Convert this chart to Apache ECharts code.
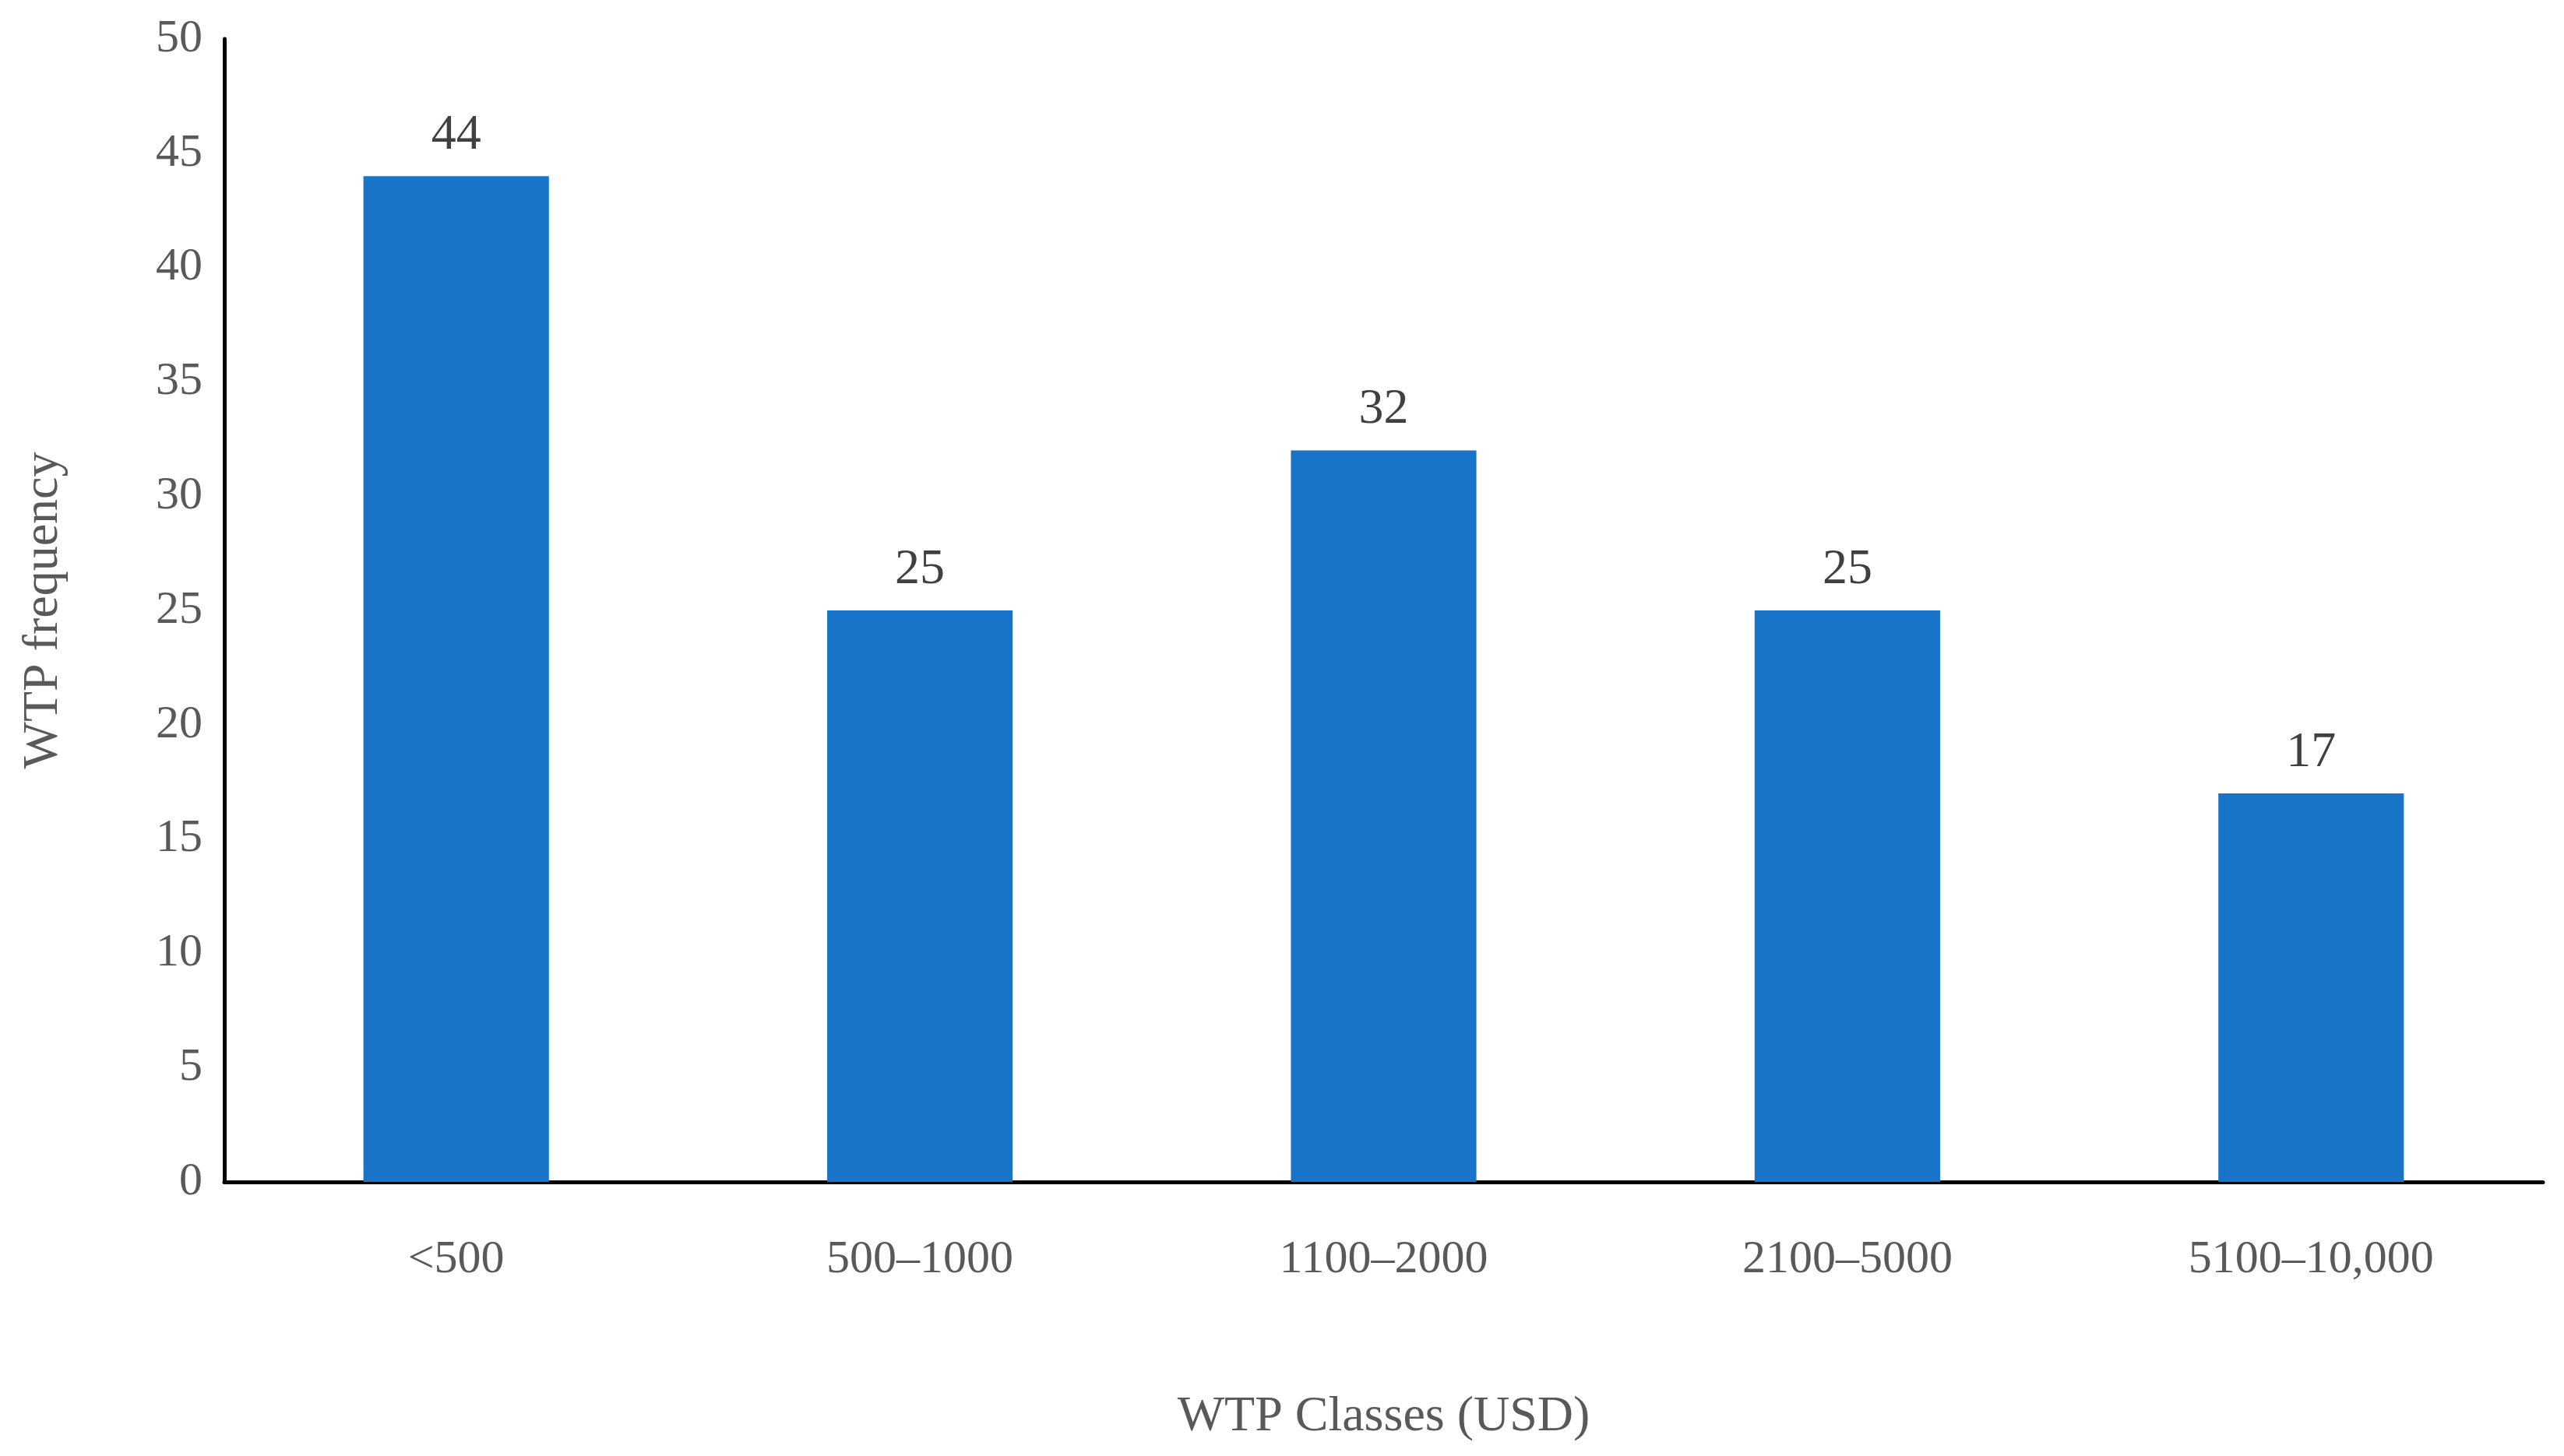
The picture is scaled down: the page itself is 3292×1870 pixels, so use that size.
<!DOCTYPE html>
<html><head><meta charset="utf-8">
<script src="https://cdn.jsdelivr.net/npm/echarts@6/dist/echarts.min.js"></script>
<style>html,body{margin:0;padding:0;background:#fff}#c{width:3292px;height:1870px}</style>
</head><body><div id="c"></div>
<script>
const categories = ['<500','500–1000','1100–2000','2100–5000','5100–10,000'];
const values = [44,25,32,25,17];
const font = 'Palatino Linotype, "Liberation Serif", "DejaVu Serif", serif';
const chart = echarts.init(document.getElementById('c'));
chart.setOption({
  animation:false,
  grid:{left:288,right:27,top:50,bottom:352},
  xAxis:{type:'category',data:categories,
    axisLine:{lineStyle:{color:'#000',width:5}},axisTick:{show:false},
    axisLabel:{color:'#595959',fontSize:60,fontFamily:font,margin:70},
    name:'WTP Classes (USD)',nameLocation:'middle',nameGap:270,
    nameTextStyle:{color:'#595959',fontSize:64,fontFamily:font}},
  yAxis:{type:'value',min:0,max:50,interval:5,
    axisLine:{show:true,lineStyle:{color:'#000',width:5}},axisTick:{show:false},splitLine:{show:false},
    axisLabel:{color:'#595959',fontSize:60,fontFamily:font,margin:28},
    name:'WTP frequency',nameLocation:'middle',nameGap:200,
    nameTextStyle:{color:'#595959',fontSize:64,fontFamily:font}},
  series:[{type:'bar',data:values,barWidth:'40%',itemStyle:{color:'#1874C8'},
    label:{show:true,position:'top',distance:20,color:'#404040',fontSize:64,fontFamily:font}}]
});
</script></body></html>
